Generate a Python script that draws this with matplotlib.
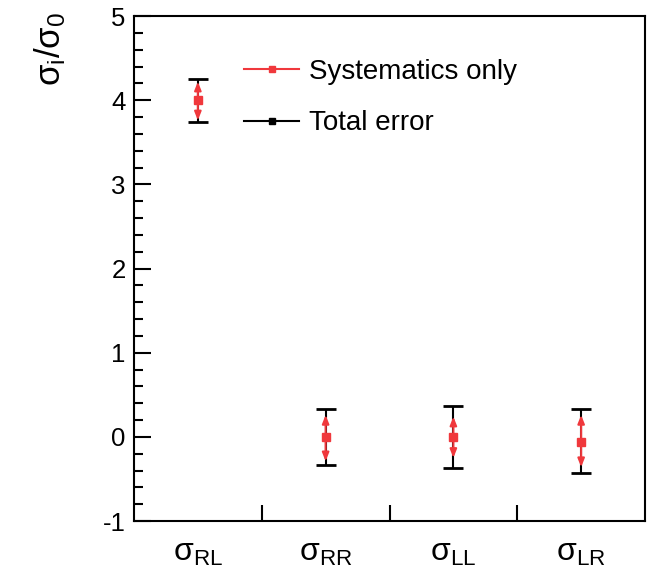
import matplotlib
matplotlib.use("Agg")
import matplotlib.pyplot as plt
from matplotlib.lines import Line2D
from matplotlib.ticker import MultipleLocator, FixedLocator, NullFormatter, FixedFormatter

plt.rcParams['font.family'] = ['Liberation Sans', 'DejaVu Sans']
plt.rcParams['mathtext.fontset'] = 'custom'
plt.rcParams['mathtext.rm'] = 'Liberation Sans'
plt.rcParams['mathtext.it'] = 'Liberation Sans'
plt.rcParams['mathtext.bf'] = 'Liberation Sans:bold'
plt.rcParams['axes.unicode_minus'] = False

# Helicity cross sections normalised to the unpolarised one
categories = [r'σ$_{\mathrm{RL}}$', r'σ$_{\mathrm{RR}}$',
              r'σ$_{\mathrm{LL}}$', r'σ$_{\mathrm{LR}}$']
ratio = [4.0, 0.0, 0.0, -0.06]
total_up = [0.25, 0.33, 0.37, 0.39]
total_down = [0.26, 0.34, 0.37, 0.37]
syst_up = [0.22, 0.26, 0.24, 0.32]
syst_down = [0.24, 0.29, 0.25, 0.30]

red = '#f0383c'
black = '#000000'

fig = plt.figure(figsize=(6.52, 5.74), dpi=100)
ax = fig.add_axes([0.2055, 0.0923, 0.7838, 0.8798])

xs = [i + 0.5 for i in range(len(categories))]

# total uncertainty: black bars with caps
ax.errorbar(xs, ratio, yerr=[total_down, total_up], fmt='none',
            ecolor=black, elinewidth=1.5, capsize=7.5, capthick=2, zorder=2)

# systematic uncertainty: red double arrows
for x, y, up, dn in zip(xs, ratio, syst_up, syst_down):
    for end in (y + up, y - dn):
        ax.annotate('', xy=(x, end), xytext=(x, y),
                    arrowprops=dict(arrowstyle='-|>,head_length=0.5,head_width=0.2',
                                    color=red, lw=1.5,
                                    mutation_scale=10, shrinkA=0, shrinkB=0),
                    zorder=3)
ax.plot(xs, ratio, linestyle='none', marker='s', markersize=5.5,
        color=red, zorder=4)

ax.set_xlim(0, 4)
ax.set_ylim(-1, 5)

ax.xaxis.set_major_locator(FixedLocator([1, 2, 3]))
ax.xaxis.set_major_formatter(NullFormatter())
ax.xaxis.set_minor_locator(FixedLocator(xs))
ax.xaxis.set_minor_formatter(FixedFormatter(categories))
ax.tick_params(axis='x', which='major', direction='in', length=11.5,
               width=1.5, bottom=True, top=False)
ax.tick_params(axis='x', which='minor', length=0, pad=12, labelsize=23)

ax.yaxis.set_major_locator(MultipleLocator(1))
ax.yaxis.set_minor_locator(MultipleLocator(0.2))
ax.tick_params(axis='y', which='major', direction='in', length=12.5,
               width=1.5, labelsize=18.5, pad=6, left=True, right=False)
ax.tick_params(axis='y', which='minor', direction='in', length=6.5,
               width=1.5, left=True, right=False)

for sp in ax.spines.values():
    sp.set_linewidth(1.5)

ax.set_ylabel(r'σ$_{i}$/σ$_{0}$', fontsize=25)
ax.yaxis.set_label_coords(-0.13, 0.935)

handles = [
    Line2D([], [], color=red, lw=1.5, marker='s', markersize=4),
    Line2D([], [], color=black, lw=1.5, marker='s', markersize=4),
]
ax.legend(handles, ['Systematics only', 'Total error'], loc='upper left',
          bbox_to_anchor=(0.215, 0.915), frameon=False, fontsize=20,
          handlelength=2.0, handletextpad=0.35, labelspacing=0.92,
          borderaxespad=0, borderpad=0, markerscale=1)

fig.savefig('out.png', dpi=100)
